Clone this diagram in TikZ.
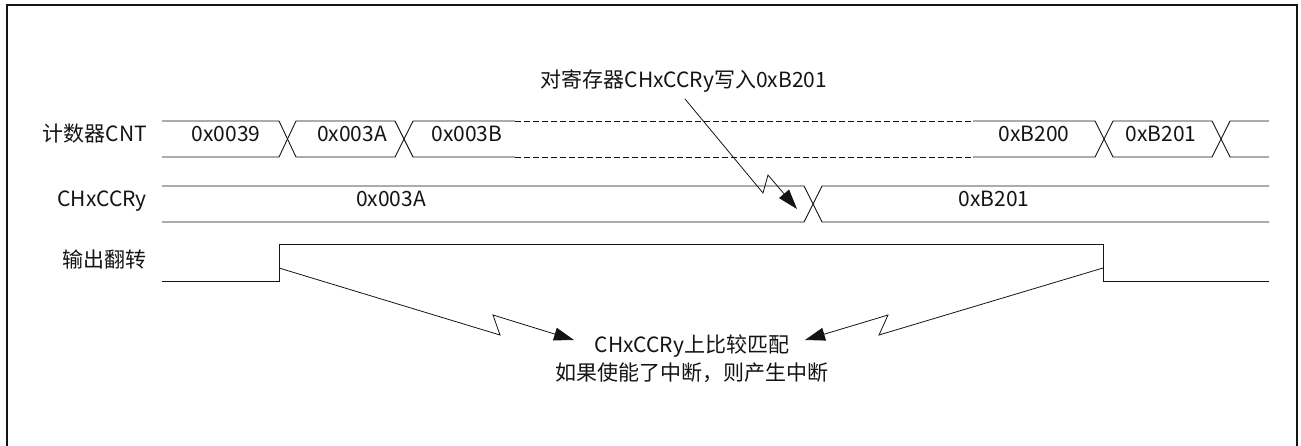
\documentclass[tikz,border=0pt]{standalone}
\usepackage{fontspec}
\usepackage{tikz}
\usetikzlibrary{arrows.meta, positioning}
\newfontfamily\cjkfont{Noto Sans CJK SC}
\definecolor{waveInk}{RGB}{20,20,20}

\begin{document}
\begin{tikzpicture}[
      x=1pt, y=-1pt,
      txt/.style={font=\cjkfont\fontsize{21}{28}\selectfont, inner sep=0pt, text=waveInk},
      rowlbl/.style={txt, anchor=mid east},
      val/.style={txt, anchor=mid},
      wave/.style={draw=waveInk, line width=0.9pt, line join=miter},
      gap/.style={wave, dash pattern=on 6pt off 3pt},
      bolt/.style={draw=waveInk, line width=0.8pt, -{Triangle[length=20pt, width=13pt]}}
    ]
    \useasboundingbox (0,0) rectangle (1301,445);
    \draw[line width=1.7pt, draw=waveInk] (7,460) -- (7,5) -- (1297,5) -- (1297,460);

    % row labels
    \node[rowlbl] (cntlbl) at (147,139) {计数器CNT};
    \node[rowlbl] (ccrlbl) at (147,204) {CHxCCRy};
    \node[rowlbl] (outlbl) at (147,265) {输出翻转};

    % counter row
    \draw[wave] (162,121) -- (279,121) -- (296,157) -- (395,157) -- (413,121) -- (515,121);
    \draw[wave] (162,157) -- (279,157) -- (296,121) -- (395,121) -- (413,157) -- (515,157);
    \draw[gap] (515,121) -- (973,121);
    \draw[gap] (515,157) -- (973,157);
    \draw[wave] (973,121) -- (1095,121) -- (1113,157) -- (1212,157) -- (1230,121) -- (1269,121);
    \draw[wave] (973,157) -- (1095,157) -- (1113,121) -- (1212,121) -- (1230,157) -- (1269,157);
    \node[val] (cnt39) at (226,139) {0x0039};
    \node[val] (cnt3a) at (352,139) {0x003A};
    \node[val] (cnt3b) at (467,139) {0x003B};
    \node[val] (cntb200) at (1034,139) {0xB200};
    \node[val] (cntb201) at (1161,139) {0xB201};

    % compare register row
    \draw[wave] (162,186) -- (804,186) -- (822,222) -- (1269,222);
    \draw[wave] (162,222) -- (804,222) -- (822,186) -- (1269,186);
    \node[val] (ccrold) at (391,204) {0x003A};
    \node[val] (ccrnew) at (994,204) {0xB201};

    % output toggle
    \draw[wave] (162,281) -- (279,281) -- (279,244) -- (1103,244) -- (1103,281) -- (1269,281);

    % notes
    \node[val] (wrnote) at (684,85) {对寄存器CHxCCRy写入0xB201};
    \node[txt, align=center] (irqnote) at (692,359) {CHxCCRy上比较匹配\\如果使能了中断，则产生中断};

    \coordinate (wrfrom) at (685,99);
    \coordinate (wrto) at (797,209);
    \coordinate (riseA) at (279,268);
    \coordinate (fallB) at (1103,268);
    \coordinate (irqL) at (574,340);
    \coordinate (irqR) at (805,340);

    \draw[bolt] (wrfrom) -- (763,193) -- (768,175) -- (wrto);
    \draw[bolt] (riseA) -- (500,335) -- (493,315) -- (irqL);
    \draw[bolt] (fallB) -- (879,335) -- (888,315) -- (irqR);
  \end{tikzpicture}
\end{document}
